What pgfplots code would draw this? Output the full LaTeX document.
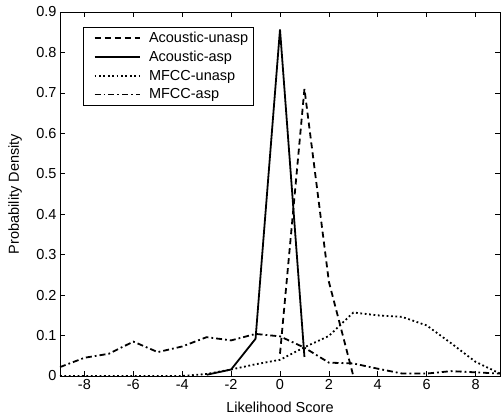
\documentclass[border=0pt]{standalone}
\usepackage{fontspec}
\setmainfont{Liberation Sans}
\usepackage{pgfplots}
\pgfplotsset{compat=1.18}

\begin{document}
\begin{tikzpicture}[font=\fontsize{14.5}{17}\selectfont]
\begin{axis}[
  scale only axis,
  width=440pt, height=364pt,
  xmin=-9, xmax=9, ymin=0, ymax=0.9,
  xtick={-8,-6,-4,-2,0,2,4,6,8},
  xticklabels={-8,-6,-4,-2,0,2,4,6,8},
  ytick={0,0.1,0.2,0.3,0.4,0.5,0.6,0.7,0.8,0.9},
  yticklabels={0,0.1,0.2,0.3,0.4,0.5,0.6,0.7,0.8,0.9},
  tick align=inside,
  major tick length=5pt,
  axis line style={line width=0.8pt},
  every tick/.style={line width=0.6pt, black},
  xlabel={Likelihood Score},
  ylabel={Probability Density},
  xlabel style={at={(axis description cs:0.5,-0.085)}, anchor=center},
  ylabel style={at={(axis description cs:-0.102,0.5)}, anchor=center},
  legend cell align=left,
  legend style={at={(0.053,0.96)}, anchor=north west, draw=black, line width=0.8pt,
    inner xsep=1pt, inner ysep=3pt, row sep=3pt,
    nodes={inner xsep=4.5pt, inner ysep=2pt, text depth=0.15em},
    font=\fontsize{14.5}{17}\selectfont},
  legend image code/.code={\draw[#1] (0pt,0pt) -- (45pt,0pt); \path (-9pt,0pt) (49pt,0pt);},
]
\addplot[black, line width=1.8pt, dash pattern=on 6pt off 4pt] coordinates {
  (0,0.055) (1,0.71) (2,0.233) (3,0)
};
\addplot[black, line width=1.8pt, solid] coordinates {
  (-3,0.003) (-2,0.016) (-1,0.092) (0,0.857) (1,0.047)
};
\addplot[black, line width=1.8pt, dash pattern=on 1.8pt off 2.6pt] coordinates {
  (-9,0) (-8,0) (-7,0) (-6,0) (-5,0) (-4,0) (-3,0.005) (-2,0.016) (-1,0.029)
  (0,0.040) (1,0.071) (2,0.099) (3,0.157) (4,0.150) (5,0.146) (6,0.125)
  (7,0.081) (8,0.035) (9,0.006)
};
\addplot[black, line width=1.8pt, dash pattern=on 6pt off 3pt on 1.8pt off 3pt] coordinates {
  (-9,0.022) (-8,0.045) (-7,0.055) (-6,0.085) (-5,0.059) (-4,0.073) (-3,0.096)
  (-2,0.088) (-1,0.104) (0,0.098) (1,0.070) (2,0.033) (3,0.031) (4,0.018)
  (5,0.006) (6,0.006) (7,0.012) (8,0.009) (9,0.006)
};
\legend{Acoustic-unasp, Acoustic-asp, MFCC-unasp, MFCC-asp}
\end{axis}
\path ([xshift=-60pt,yshift=-41.3pt]current axis.south west)
  rectangle ([xshift=1pt,yshift=12pt]current axis.north east);
\end{tikzpicture}
\end{document}
